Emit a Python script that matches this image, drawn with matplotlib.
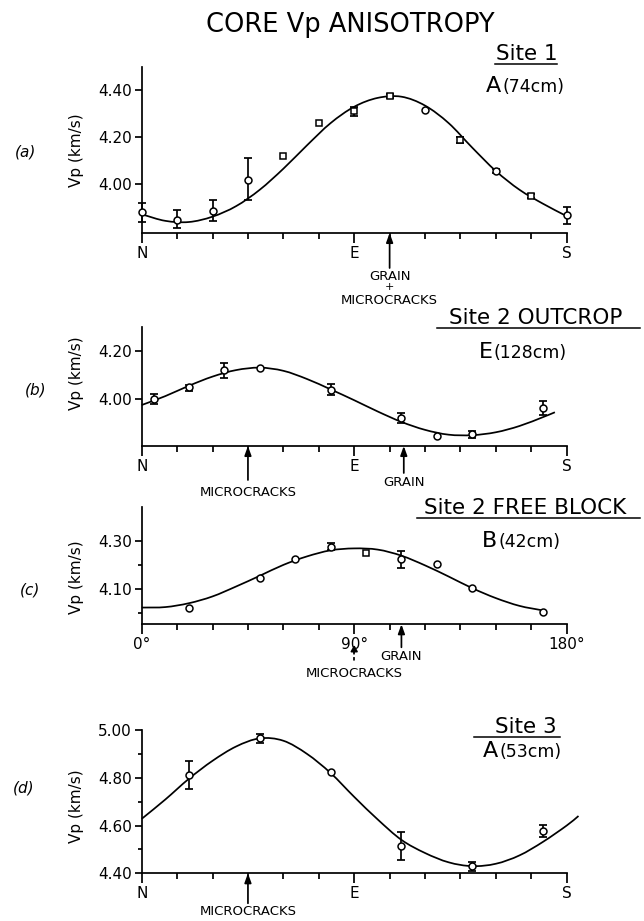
import matplotlib
matplotlib.use("Agg")
import matplotlib.pyplot as plt
from matplotlib.lines import Line2D
from matplotlib.path import Path
from matplotlib.patches import PathPatch, FancyArrowPatch
import numpy as np

W, H = 644, 921

# fitted curves, every 10 degrees
ang_a = list(range(0, 190, 10))
fit_a = [3.87, 3.842, 3.837, 3.86, 3.905, 3.975, 4.065, 4.165, 4.26, 4.33,
         4.368, 4.373, 4.335, 4.26, 4.155, 4.055, 3.975, 3.915, 3.862]
ang_b = list(range(0, 180, 10)) + [175]
fit_b = [3.975, 4.012, 4.055, 4.093, 4.12, 4.13, 4.117, 4.083, 4.04, 3.995,
         3.948, 3.905, 3.872, 3.852, 3.85, 3.862, 3.888, 3.925, 3.945]
ang_c = list(range(0, 180, 10))
fit_c = [4.024, 4.026, 4.042, 4.07, 4.111, 4.155, 4.2, 4.235, 4.26, 4.268,
         4.263, 4.238, 4.198, 4.152, 4.104, 4.063, 4.031, 4.012]
ang_d = list(range(0, 190, 10)) + [185]
fit_d = [4.628, 4.709, 4.796, 4.871, 4.931, 4.965, 4.955, 4.9, 4.82, 4.72,
         4.625, 4.54, 4.485, 4.446, 4.43, 4.44, 4.475, 4.532, 4.6, 4.64]

# measured points: angle, Vp, error below, error above, marker
pa_ang = [0, 15, 30, 45, 60, 75, 90, 105, 120, 135, 150, 165, 180]
pa_v = [3.88, 3.847, 3.886, 4.018, 4.118, 4.26, 4.31, 4.375, 4.315, 4.187, 4.055, 3.949, 3.868]
pa_lo = [0.045, 0.034, 0.046, 0.088, 0, 0, 0.02, 0.008, 0, 0.012, 0.01, 0.008, 0.04]
pa_hi = [0.04, 0.041, 0.047, 0.092, 0, 0, 0.02, 0.008, 0, 0.012, 0.01, 0.008, 0.035]
pa_mk = ["o", "o", "o", "o", "s", "s", "s", "s", "o", "s", "o", "s", "o"]

pb_ang = [5, 20, 35, 50, 80, 110, 125, 140, 170]
pb_v = [4.00, 4.048, 4.12, 4.128, 4.039, 3.92, 3.847, 3.854, 3.961]
pb_lo = [0.022, 0.015, 0.032, 0, 0.022, 0.02, 0, 0.015, 0.026]
pb_hi = [0.022, 0.012, 0.03, 0, 0.025, 0.02, 0, 0.015, 0.029]
pb_mk = ["o"] * 9

pc_ang = [20, 50, 65, 80, 95, 110, 125, 140, 170]
pc_v = [4.021, 4.148, 4.226, 4.275, 4.249, 4.224, 4.205, 4.104, 4.005]
pc_lo = [0, 0, 0, 0.015, 0, 0.035, 0, 0, 0]
pc_hi = [0, 0, 0, 0.017, 0, 0.035, 0, 0, 0]
pc_mk = ["o", "o", "o", "o", "s", "o", "o", "o", "o"]

pd_ang = [20, 50, 80, 110, 140, 170]
pd_v = [4.81, 4.965, 4.826, 4.513, 4.43, 4.579]
pd_lo = [0.055, 0.02, 0, 0.058, 0.02, 0.029]
pd_hi = [0.061, 0.018, 0, 0.059, 0.018, 0.025]
pd_mk = ["o"] * 6

compass = ["N", "E", "S"]
degrees = ["0°", "90°", "180°"]

LW = 1.25


def fx(x):
    return x / W


def fy(y):
    return 1 - y / H


def smooth_path(xs, ys):
    # cubic bezier through the read points (catmull-rom handles)
    p = np.column_stack([xs, ys]).astype(float)
    ext = np.vstack([2 * p[0] - p[1], p, 2 * p[-1] - p[-2]])
    verts, codes = [p[0]], [Path.MOVETO]
    for i in range(1, len(ext) - 2):
        c1 = ext[i] + (ext[i + 1] - ext[i - 1]) / 6
        c2 = ext[i + 1] - (ext[i + 2] - ext[i]) / 6
        verts += [c1, c2, ext[i + 1]]
        codes += [Path.CURVE4] * 3
    return Path(verts, codes)


def panel(ax, c_ang, c_val, ang, v, lo, hi, mk, ylim, yticks, xlabels, yminor=()):
    ax.add_patch(PathPatch(smooth_path(c_ang, c_val), fill=False, ec="k", lw=LW,
                           clip_on=False, zorder=2))
    ang = np.array(ang); v = np.array(v); lo = np.array(lo); hi = np.array(hi)
    e = (lo > 0) | (hi > 0)
    cont = ax.errorbar(ang[e], v[e], yerr=[lo[e], hi[e]], fmt="none", ecolor="k",
                       elinewidth=LW, capsize=3, capthick=LW, zorder=3)
    for art in list(cont.lines[1]) + list(cont.lines[2]):
        art.set_clip_on(False)
    for m in sorted(set(mk)):
        s = np.array([k == m for k in mk])
        ax.plot(ang[s], v[s], ls="none", marker=m, ms=5 if m == "o" else 4.5,
                mfc="white", mec="k", mew=1.1, clip_on=False, zorder=4)
    ax.set_xlim(0, 180)
    ax.set_ylim(*ylim)
    for sp in ["top", "right"]:
        ax.spines[sp].set_visible(False)
    for sp in ["left", "bottom"]:
        ax.spines[sp].set_linewidth(LW)
    ax.set_xticks([0, 90, 180], labels=xlabels)
    ax.set_xticks(range(15, 180, 15), minor=True)
    ax.tick_params(axis="x", which="major", length=7, width=LW, pad=2, labelsize=11)
    ax.tick_params(axis="x", which="minor", length=4, width=LW)
    ax.set_yticks(yticks, labels=[f"{t:.2f}" for t in yticks])
    ax.set_yticks(list(yminor), minor=True)
    ax.tick_params(axis="y", which="major", length=5, width=LW, pad=2, labelsize=11)
    ax.tick_params(axis="y", which="minor", length=3, width=LW)


def arrow(ax, x, tail):
    ax.annotate("", xy=(x, 0), xycoords=ax.get_xaxis_transform(),
                xytext=(0, -tail), textcoords="offset pixels",
                arrowprops=dict(arrowstyle="-|>,head_length=0.55,head_width=0.2",
                                color="k", lw=LW, shrinkA=0, shrinkB=0))


def label(ax, x, off, s, size=9.5):
    ax.annotate(s, xy=(x, 0), xycoords=ax.get_xaxis_transform(),
                xytext=(0, -off), textcoords="offset pixels",
                ha="center", va="center", fontsize=size)


fig = plt.figure(figsize=(W / 100, H / 100), dpi=100)
L, Wd = fx(141.7), 425 / W
ax_a = fig.add_axes([L, fy(233), Wd, (233 - 67) / H])
ax_b = fig.add_axes([L, fy(446), Wd, (446 - 326.7) / H])
ax_c = fig.add_axes([L, fy(624.3), Wd, (624.3 - 506.7) / H])
ax_d = fig.add_axes([L, fy(873.3), Wd, (873.3 - 730) / H])

panel(ax_a, ang_a, fit_a, pa_ang, pa_v, pa_lo, pa_hi, pa_mk, (3.79, 4.50),
      [4.00, 4.20, 4.40], compass)
panel(ax_b, ang_b, fit_b, pb_ang, pb_v, pb_lo, pb_hi, pb_mk, (3.805, 4.30),
      [4.00, 4.20], compass)
panel(ax_c, ang_c, fit_c, pc_ang, pc_v, pc_lo, pc_hi, pc_mk, (3.955, 4.44),
      [4.10, 4.30], degrees, yminor=[4.00, 4.20])
panel(ax_d, ang_d, fit_d, pd_ang, pd_v, pd_lo, pd_hi, pd_mk, (4.40, 5.00),
      [4.40, 4.60, 4.80, 5.00], compass, yminor=[4.50, 4.70, 4.90])

# annotations under the axes
arrow(ax_a, 105, 35)
label(ax_a, 105, 44, "GRAIN")
label(ax_a, 105, 54, "+", size=8)
label(ax_a, 105, 67, "MICROCRACKS")

arrow(ax_b, 45, 34)
label(ax_b, 45, 46, "MICROCRACKS")
arrow(ax_b, 111, 27)
label(ax_b, 111, 36, "GRAIN")

arrow(ax_c, 110, 23)
label(ax_c, 110, 32, "GRAIN")
label(ax_c, 90, 49, "MICROCRACKS")

arrow(ax_d, 45, 30)
label(ax_d, 45, 38, "MICROCRACKS")

# dashed arrow in (c) under the 90 degree label
x90 = 141.7 + 90 * 425 / 180
fig.add_artist(Line2D([fx(x90)] * 2, [fy(651), fy(661)], color="k", lw=LW,
                      ls=(0, (2, 1.5)), transform=fig.transFigure))
fig.add_artist(FancyArrowPatch(
    (fx(x90), fy(652)), (fx(x90), fy(645)), transform=fig.transFigure,
    arrowstyle="-|>,head_length=3.5,head_width=2", color="k", lw=LW,
    shrinkA=0, shrinkB=0))

# title and site labels
fig.text(fx(350), fy(32), "CORE Vp ANISOTROPY", ha="center", va="baseline", fontsize=18.5)

sites = [("Site 1", 526.5, 60, 495, 557, 64),
         ("Site 2 OUTCROP", 535.5, 324, 437, 640, 328),
         ("Site 2 FREE BLOCK", 525.5, 514, 417, 640, 518),
         ("Site 3", 525.5, 733, 474, 560, 737)]
for s, xc, yb, u0, u1, uy in sites:
    fig.text(fx(xc), fy(yb), s, ha="center", va="baseline", fontsize=15.5)
    fig.add_artist(Line2D([fx(u0), fx(u1)], [fy(uy)] * 2, color="k", lw=1.1,
                          transform=fig.transFigure))

cores = [("A", "(74cm)", 501, 92), ("E", "(128cm)", 493, 358),
         ("B", "(42cm)", 497, 547), ("A", "(53cm)", 498, 757)]
for big, small, xb, yb in cores:
    fig.text(fx(xb), fy(yb), big, ha="right", va="baseline", fontsize=16)
    fig.text(fx(xb + 1), fy(yb), small, ha="left", va="baseline", fontsize=12.5)

# y labels and panel letters
for yc in [150, 373, 577, 806]:
    fig.text(fx(76), fy(yc), "Vp (km/s)", rotation=90, ha="center", va="center", fontsize=11)
for s, xc, yc in [("(a)", 26, 152), ("(b)", 36, 390), ("(c)", 30, 590), ("(d)", 24, 788)]:
    fig.text(fx(xc), fy(yc), s, ha="center", va="center", fontsize=11, style="italic")

fig.savefig("out.png", dpi=100)
